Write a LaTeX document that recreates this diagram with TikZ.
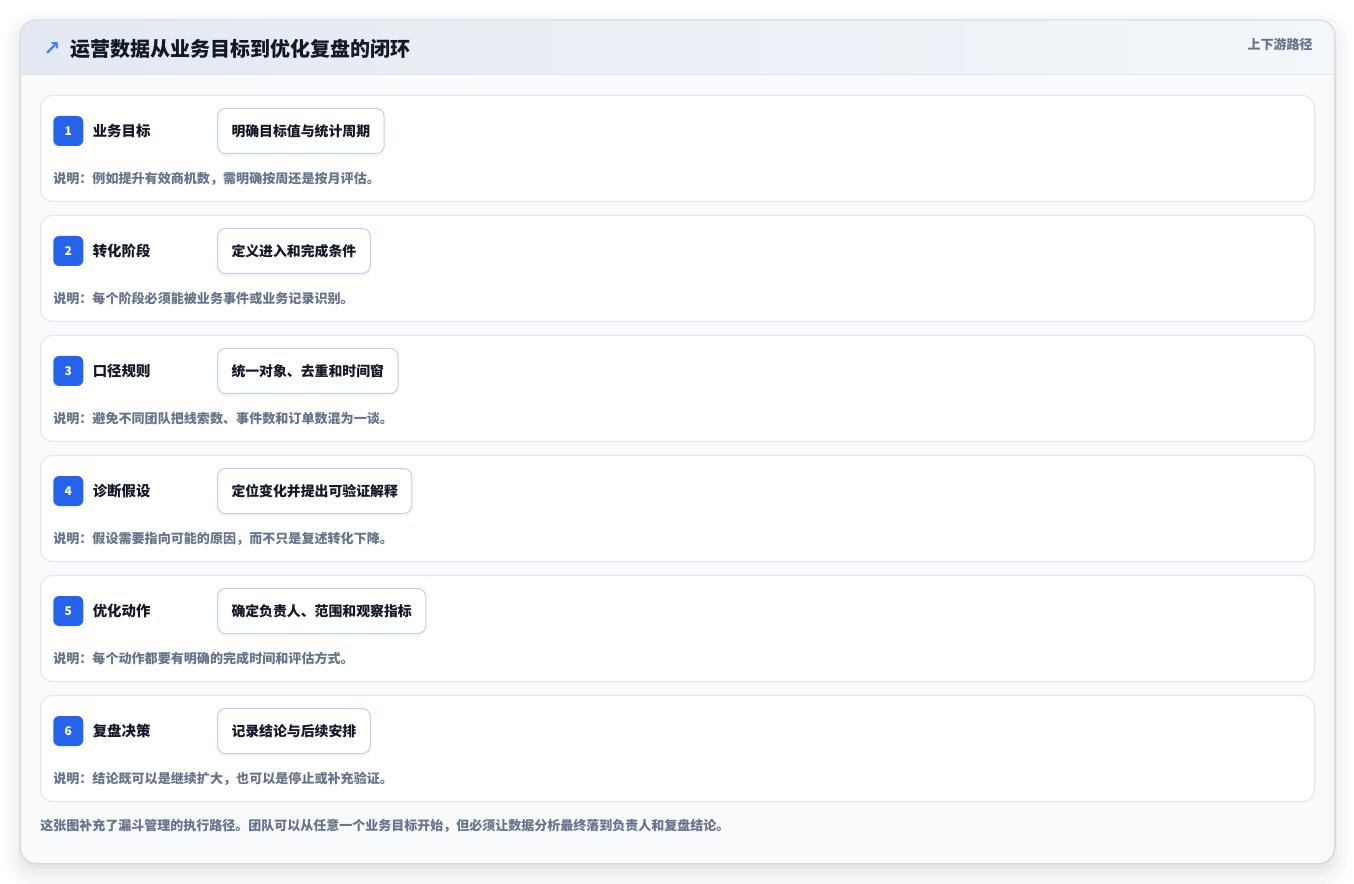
\documentclass[tikz,border=0pt]{standalone}
\usepackage{fontspec}
\setmainfont{Noto Sans CJK SC}
\newfontfamily\symfont{DejaVu Sans}
\usetikzlibrary{positioning,shadows,shadows.blur}

\definecolor{ink}{HTML}{111827}
\definecolor{muted}{HTML}{64748B}
\definecolor{badgeblue}{HTML}{2563EB}
\definecolor{arrowblue}{HTML}{3B82F6}
\definecolor{hdleft}{HTML}{E3E9F2}
\definecolor{hdright}{HTML}{F3F6FA}
\definecolor{hdline}{HTML}{DCE5F1}
\definecolor{frameline}{HTML}{D3DAE4}
\definecolor{framefill}{HTML}{F9FAFC}
\definecolor{cardline}{HTML}{DFE7F2}
\definecolor{pillline}{HTML}{BCD0EC}

\tikzset{
  outer/.style={draw=frameline, fill=framefill, rounded corners=12pt, line width=0.75pt,
    blur shadow={shadow xshift=0pt, shadow yshift=-6pt, shadow blur radius=14pt, shadow opacity=14}},
  card/.style={draw=cardline, fill=white, rounded corners=9pt, line width=0.75pt,
    minimum width=955.5pt, minimum height=79.5pt, anchor=north west},
  badge/.style={fill=badgeblue, rounded corners=4.5pt, minimum size=22.5pt, inner sep=0pt,
    text=white, font=\bfseries\fontsize{9}{9}\selectfont, anchor=west},
  steplabel/.style={font=\bfseries\fontsize{10.8}{12}\selectfont, text=ink, inner sep=0pt},
  pill/.style={draw=pillline, fill=white, rounded corners=6pt, line width=0.75pt,
    minimum height=33.75pt, inner xsep=10.5pt, anchor=west, text=ink,
    font=\bfseries\fontsize{10.4}{12}\selectfont,
    drop shadow={opacity=0.07, shadow xshift=0pt, shadow yshift=-2.5pt}},
  note/.style={font=\bfseries\fontsize{9.8}{11}\selectfont, text=muted, inner sep=0pt, anchor=west},
}

\begin{document}
\begin{tikzpicture}[x=0.75pt, y=-0.75pt]
  \useasboundingbox (0,0) rectangle (1354,884);

  % outer frame and header band
  \node[outer, anchor=north west, minimum width=985.5pt, minimum height=632.25pt] (frame) at (20,20) {};
  \begin{scope}
    \clip[rounded corners=12pt] (frame.north west) rectangle (frame.south east);
    \shade[left color=hdleft, right color=hdright] (frame.north west) rectangle (1334,75);
  \end{scope}
  \draw[hdline, line width=0.75pt] (20,75) -- (1334,75);
  \draw[frameline, line width=0.75pt, rounded corners=12pt] (frame.north west) rectangle (frame.south east);

  \node[anchor=west, inner sep=0pt, text=ink, font=\bfseries\fontsize{15}{18}\selectfont] (title) at (70,49)
    {运营数据从业务目标到优化复盘的闭环};
  \node[left=7pt of title, inner sep=0pt, text=arrowblue, font=\symfont\bfseries\fontsize{15}{15}\selectfont] (icon) {↗};
  \node[anchor=east, inner sep=0pt, text=muted, font=\bfseries\fontsize{9.75}{12}\selectfont] (route) at (1313,44)
    {上下游路径};

  % steps
  \foreach \lbl/\act/\desc [count=\i] in {
      业务目标/明确目标值与统计周期/说明：例如提升有效商机数，需明确按周还是按月评估。,
      转化阶段/定义进入和完成条件/说明：每个阶段必须能被业务事件或业务记录识别。,
      口径规则/统一对象、去重和时间窗/说明：避免不同团队把线索数、事件数和订单数混为一谈。,
      诊断假设/定位变化并提出可验证解释/说明：假设需要指向可能的原因，而不只是复述转化下降。,
      优化动作/确定负责人、范围和观察指标/说明：每个动作都要有明确的完成时间和评估方式。,
      复盘决策/记录结论与后续安排/说明：结论既可以是继续扩大，也可以是停止或补充验证。}
  {
    \pgfmathsetmacro\cardy{95+(\i-1)*120}
    \node[card] (card\i) at (40,\cardy) {};
    \node[badge] (badge\i) at (53,\cardy+36) {\i};
    \node[steplabel, right=6.75pt of badge\i] (lbl\i) {\lbl};
    \node[pill] (act\i) at (217,\cardy+36) {\act};
    \node[note] (note\i) at (53,\cardy+84) {\desc};
  }

  \node[note, font=\bfseries\fontsize{9.75}{11}\selectfont] (foot) at (40,826)
    {这张图补充了漏斗管理的执行路径。团队可以从任意一个业务目标开始，但必须让数据分析最终落到负责人和复盘结论。};
\end{tikzpicture}
\end{document}
